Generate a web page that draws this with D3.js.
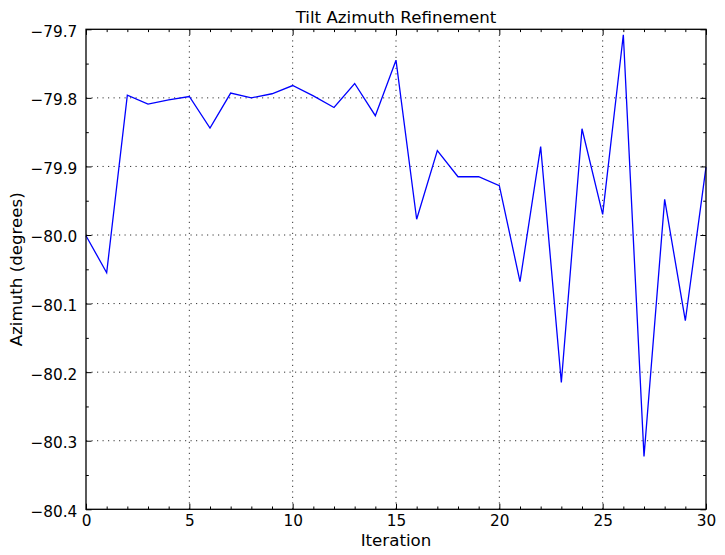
<!DOCTYPE html>
<html>
<head>
<meta charset="utf-8">
<script src="https://cdn.jsdelivr.net/npm/d3@7/dist/d3.min.js"></script>
<style>
html,body{margin:0;padding:0;background:#fff;}
svg{display:block;font-family:"DejaVu Sans",sans-serif;}
</style>
</head>
<body>
<svg id="chart" width="725" height="555"></svg>
<script>
const iterations = d3.range(0, 31);
const azimuth = [
  -80.001, -80.055, -79.796, -79.809, -79.803, -79.798, -79.844, -79.793,
  -79.800, -79.794, -79.782, -79.797, -79.814, -79.779, -79.826, -79.745,
  -79.977, -79.877, -79.915, -79.915, -79.928, -80.068, -79.871, -80.215,
  -79.845, -79.970, -79.708, -80.323, -79.948, -80.125, -79.901
];
const xTicks = [0, 5, 10, 15, 20, 25, 30];
const yTicks = [-80.4, -80.3, -80.2, -80.1, -80.0, -79.9, -79.8, -79.7];
const xMinor = d3.range(0, 31);
const yMinor = d3.range(0, 15).map(i => -80.4 + i * 0.05);
const titleText = "Tilt Azimuth Refinement";
const xLabelText = "Iteration";
const yLabelText = "Azimuth (degrees)";

const W = 725, H = 555;
const m = {left: 86, right: 19, top: 29.3, bottom: 45.7};
const iw = W - m.left - m.right, ih = H - m.top - m.bottom;
const fs = 16.67, tfs = 15.3;

const svg = d3.select("#chart");
const g = svg.append("g").attr("transform", `translate(${m.left},${m.top})`);

const x = d3.scaleLinear().domain([0, 30]).range([0, iw]);
const y = d3.scaleLinear().domain([-80.4, -79.7]).range([ih, 0]);

// grid
const grid = g.append("g").attr("class", "grid");
grid.selectAll("line.gx").data(xTicks.slice(1, -1)).join("line")
  .attr("x1", d => x(d)).attr("x2", d => x(d)).attr("y1", 0).attr("y2", ih)
  .attr("stroke", "#000").attr("stroke-width", 0.8).attr("stroke-dasharray", "1.2,4.3");
grid.selectAll("line.gy").data(yTicks.slice(1, -1)).join("line")
  .attr("x1", 0).attr("x2", iw).attr("y1", d => y(d)).attr("y2", d => y(d))
  .attr("stroke", "#000").attr("stroke-width", 0.8).attr("stroke-dasharray", "1.2,4.3");

// line
const line = d3.line().x((d, i) => x(iterations[i])).y(d => y(d));
g.append("path").datum(azimuth)
  .attr("d", line).attr("fill", "none").attr("stroke", "#0000ff")
  .attr("stroke-width", 1.3).attr("stroke-linejoin", "miter");

// axes with inward ticks
const fmtY = d => d3.format(".1f")(d).replace("-", "\u2212");
const major = 5.6, minor = 2.8;

const xAxisB = d3.axisBottom(x).tickValues(xTicks).tickSize(-major).tickPadding(6.3).tickFormat(d3.format("d"));
const xAxisT = d3.axisTop(x).tickValues(xTicks).tickSize(-major).tickFormat("");
const yAxisL = d3.axisLeft(y).tickValues(yTicks).tickSize(-major).tickPadding(8.7).tickFormat(fmtY);
const yAxisR = d3.axisRight(y).tickValues(yTicks).tickSize(-major).tickFormat("");

const xMinB = d3.axisBottom(x).tickValues(xMinor.filter(v => v % 5 !== 0)).tickSize(-minor).tickFormat("");
const xMinT = d3.axisTop(x).tickValues(xMinor.filter(v => v % 5 !== 0)).tickSize(-minor).tickFormat("");
const yMinVals = yMinor.filter((v, i) => i % 2 === 1);
const yMinL = d3.axisLeft(y).tickValues(yMinVals).tickSize(-minor).tickFormat("");
const yMinR = d3.axisRight(y).tickValues(yMinVals).tickSize(-minor).tickFormat("");

function style(sel) {
  sel.select(".domain").remove();
  sel.selectAll("line").attr("stroke", "#000").attr("stroke-width", 1);
  sel.selectAll("text").attr("fill", "#000").style("font-size", tfs + "px").style("font-family", "DejaVu Sans");
}
g.append("g").attr("transform", `translate(0,${ih})`).call(xAxisB).call(style);
g.append("g").call(xAxisT).call(style);
g.append("g").call(yAxisL).call(style).selectAll("text").attr("dy", "0.45em");
g.append("g").attr("transform", `translate(${iw},0)`).call(yAxisR).call(style);
g.append("g").attr("transform", `translate(0,${ih})`).call(xMinB).call(style);
g.append("g").call(xMinT).call(style);
g.append("g").call(yMinL).call(style);
g.append("g").attr("transform", `translate(${iw},0)`).call(yMinR).call(style);

// frame
g.append("rect").attr("x", 0).attr("y", 0).attr("width", iw).attr("height", ih)
  .attr("fill", "none").attr("stroke", "#000").attr("stroke-width", 1.3);

// title & labels
svg.append("text").attr("x", m.left + iw / 2).attr("y", 22.5)
  .attr("text-anchor", "middle").style("font-size", fs + "px").text(titleText);
svg.append("text").attr("x", m.left + iw / 2).attr("y", 545.5)
  .attr("text-anchor", "middle").style("font-size", fs + "px").text(xLabelText);
svg.append("text").attr("transform", `translate(22,${m.top + ih / 2}) rotate(-90)`)
  .attr("text-anchor", "middle").style("font-size", fs + "px").text(yLabelText);
</script>
</body>
</html>
